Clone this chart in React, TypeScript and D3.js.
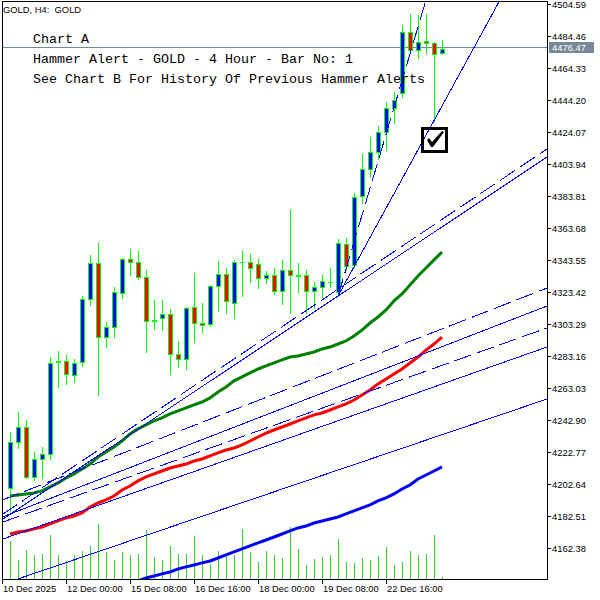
import React, { useEffect, useRef } from 'react';
import * as d3 from 'd3';

// ---- data (GOLD, H4) ----
const opens = [4200.2, 4229.1, 4238.5, 4207.1, 4218.4, 4221.5, 4279.4, 4280.0, 4271.2, 4279.4, 4319.0, 4341.7, 4295.1, 4301.4, 4322.8, 4344.2, 4342.3, 4332.9, 4305.2, 4307.1, 4309.6, 4284.4, 4281.3, 4314.0, 4303.9, 4303.3, 4327.2, 4334.8, 4316.5, 4342.3, 4342.3, 4341.0, 4332.2, 4334.1, 4324.1, 4337.3, 4334.1, 4334.1, 4324.1, 4326.6, 4329.7, 4323.4, 4353.6, 4340.4, 4383.8, 4400.8, 4411.5, 4424.1, 4439.2, 4448.6, 4487.0, 4475.6, 4481.3, 4480.1, 4473.8];
const highs = [4235.4, 4248.0, 4242.9, 4222.8, 4225.9, 4282.5, 4286.3, 4283.8, 4281.3, 4320.9, 4346.7, 4354.3, 4304.6, 4326.6, 4344.8, 4350.5, 4349.2, 4337.3, 4318.4, 4318.4, 4312.7, 4292.6, 4314.0, 4335.4, 4316.5, 4327.8, 4342.9, 4338.5, 4343.6, 4349.2, 4347.3, 4344.2, 4336.6, 4338.5, 4343.6, 4375.0, 4341.7, 4337.3, 4329.7, 4334.1, 4338.5, 4356.8, 4357.4, 4385.7, 4410.2, 4420.9, 4427.8, 4442.9, 4449.2, 4491.4, 4498.3, 4497.7, 4498.3, 4480.7, 4481.9];
const lows = [4184.4, 4225.3, 4206.4, 4205.2, 4206.4, 4218.4, 4263.7, 4265.6, 4266.8, 4276.9, 4315.3, 4258.6, 4288.8, 4295.1, 4319.7, 4334.1, 4331.6, 4285.7, 4300.2, 4299.5, 4271.9, 4276.3, 4275.0, 4292.0, 4298.3, 4302.0, 4311.5, 4310.2, 4307.1, 4320.9, 4329.7, 4325.9, 4329.1, 4322.2, 4315.9, 4310.2, 4323.4, 4310.2, 4313.4, 4320.3, 4326.6, 4320.9, 4337.3, 4339.2, 4379.4, 4395.8, 4407.1, 4412.7, 4429.7, 4446.1, 4475.6, 4470.6, 4473.8, 4431.0, 4473.1];
const closes = [4229.1, 4238.5, 4207.1, 4218.4, 4221.5, 4278.8, 4280.0, 4271.9, 4278.8, 4319.0, 4341.7, 4295.1, 4301.4, 4323.4, 4344.2, 4342.3, 4332.9, 4305.2, 4305.8, 4309.6, 4284.4, 4281.3, 4313.4, 4303.9, 4302.7, 4327.2, 4334.8, 4317.8, 4342.3, 4342.0, 4338.5, 4332.2, 4334.1, 4324.1, 4337.3, 4334.1, 4333.5, 4324.1, 4326.6, 4330.4, 4330.0, 4354.3, 4339.8, 4383.2, 4400.8, 4411.5, 4424.1, 4439.2, 4444.2, 4487.0, 4475.6, 4480.7, 4480.1, 4473.1, 4476.47];
const volumes = [38000, 19000, 29000, 24000, 25000, 44000, 24000, 18000, 24000, 28000, 33000, 55000, 27000, 19000, 27000, 24000, 25000, 49000, 22000, 19000, 33000, 25000, 25000, 43000, 24000, 15000, 28000, 25000, 24000, 50000, 27000, 17000, 28000, 24000, 21000, 52000, 30000, 14000, 20000, 22000, 24000, 40000, 17000, 16000, 21000, 19000, 23000, 32000, 14000, 17000, 28000, 24000, 25000, 44000, 2000];

const maGreen = [4195.1, 4195.7, 4196.4, 4197.0, 4198.3, 4200.8, 4203.3, 4206.4, 4209.0, 4212.1, 4215.2, 4219.6, 4222.8, 4225.9, 4229.7, 4234.1, 4237.3, 4239.8, 4242.3, 4244.2, 4246.7, 4248.6, 4250.5, 4252.4, 4254.2, 4256.8, 4260.5, 4263.7, 4267.5, 4270.0, 4272.5, 4275.0, 4276.9, 4278.8, 4280.7, 4282.5, 4283.2, 4284.4, 4285.7, 4287.6, 4288.8, 4290.7, 4292.6, 4295.8, 4299.5, 4303.9, 4307.7, 4312.1, 4317.8, 4322.2, 4327.8, 4333.5, 4338.5, 4343.6, 4348.6];
const maRed = [4171.2, 4172.5, 4173.1, 4174.4, 4175.6, 4177.5, 4179.4, 4181.3, 4182.5, 4184.4, 4188.2, 4190.7, 4192.6, 4195.1, 4198.9, 4201.4, 4204.6, 4207.1, 4209.0, 4210.8, 4212.7, 4214.0, 4215.2, 4217.1, 4218.4, 4220.3, 4222.2, 4224.0, 4225.3, 4227.2, 4229.7, 4232.2, 4234.7, 4236.6, 4238.5, 4240.4, 4242.3, 4244.2, 4246.1, 4247.3, 4249.2, 4251.1, 4253.0, 4255.5, 4258.6, 4261.8, 4265.6, 4268.7, 4271.9, 4275.0, 4278.8, 4282.5, 4286.9, 4290.7, 4295.1];
const maBlue = [null, null, null, null, null, null, null, null, null, null, null, null, null, null, 4137.9, 4139.8, 4141.7, 4143.5, 4144.8, 4146.1, 4147.3, 4149.2, 4150.5, 4151.7, 4153.0, 4154.2, 4156.1, 4158.0, 4159.9, 4161.8, 4163.7, 4165.6, 4167.4, 4169.3, 4171.2, 4173.1, 4175.0, 4176.2, 4178.1, 4179.4, 4180.6, 4181.9, 4183.8, 4185.7, 4187.6, 4189.5, 4192.0, 4193.9, 4196.4, 4199.5, 4202.0, 4205.8, 4208.3, 4210.8, 4213.4];

const priceTicks = [4504.59, 4484.46, 4464.33, 4444.20, 4424.07, 4403.94, 4383.81, 4363.68, 4343.55, 4323.42, 4303.29, 4283.16, 4263.03, 4242.90, 4222.77, 4202.64, 4182.51, 4162.38];
const timeTickBars = [-1, 7, 15, 23, 31, 39, 47];
const timeTickLabels = ['10 Dec 2025', '12 Dec 00:00', '15 Dec 08:00', '16 Dec 16:00', '18 Dec 00:00', '19 Dec 08:00', '22 Dec 16:00'];
const bidPrice = 4476.47;

// trend lines as [bar, price] anchor pairs
const solidTrends: [number, number][][] = [
  [[-1.25, 4179.4], [67.125, 4408.3]],
  [[-1.25, 4181.3], [67.125, 4314.6]],
  [[-1.25, 4167.4], [67.125, 4288.8]],
  [[-1.25, 4139.1], [67.125, 4256.1]],
];
const dashedTrends: [number, number][][] = [
  [[-1.25, 4182.5], [67.125, 4413.4]],
  [[-1.25, 4192.0], [67.125, 4325.9]],
  [[-1.25, 4178.1], [67.125, 4300.8]],
];
const fanSolid: [number, number][][] = [[[41, 4320.9], [61.25, 4507.1]]];
const fanDashed: [number, number][][] = [[[41, 4320.9], [52, 4507.1]]];

const signalBar = 53;
const signalPrice = 4427.2;

const title = 'GOLD, H4:  GOLD';
const messages = ['Chart A', 'Hammer Alert - GOLD - 4 Hour - Bar No: 1', 'See Chart B For History Of Previous Hammer Alerts'];

const App: React.FC = () => {
  const svgRef = useRef<SVGSVGElement>(null);

  useEffect(() => {
    if (!svgRef.current) return;
    const svg = d3.select(svgRef.current);
    svg.selectAll('*').remove();

    const left = 2, right = 547, top = 1, bottom = 579;
    const x = d3.scaleLinear().domain([-1, 54]).range([2, 442]);
    const y = d3.scaleLinear().domain([4162.38, 4504.59]).range([548, 4]);
    const v = d3.scaleLinear().domain([0, 100000]).range([bottom, bottom - 100]);

    svg.append('rect').attr('width', 600).attr('height', 600).attr('fill', '#fff');
    svg.append('defs').append('clipPath').attr('id', 'plot')
      .append('rect').attr('x', left + 1).attr('y', top + 1)
      .attr('width', right - left - 1).attr('height', bottom - top - 1);

    const g = svg.append('g').attr('clip-path', 'url(#plot)');

    // volumes
    g.selectAll('.vol').data(volumes).enter().append('rect')
      .attr('x', (d, i) => Math.round(x(i)))
      .attr('y', d => Math.round(v(d)))
      .attr('width', 1)
      .attr('height', d => bottom - Math.round(v(d)))
      .attr('fill', '#32cd32');

    // bid line
    const by = Math.round(y(bidPrice)) - 2 + 0.5;
    g.append('line').attr('x1', left).attr('x2', right).attr('y1', by).attr('y2', by)
      .attr('stroke', '#778899').attr('stroke-width', 1);

    // candles
    const candles = g.selectAll('.candle').data(opens).enter().append('g').attr('class', 'candle');
    candles.each(function (o, i) {
      const c = closes[i];
      const cx = Math.round(x(i));
      const yH = Math.round(y(highs[i]));
      const yL = Math.round(y(lows[i]));
      const yT = Math.round(y(Math.max(o, c)));
      const yB = Math.round(y(Math.min(o, c)));
      const el = d3.select(this);
      el.append('rect').attr('x', cx).attr('y', yH).attr('width', 1).attr('height', yL - yH + 1).attr('fill', '#00ff00');
      el.append('rect').attr('x', cx - 2).attr('y', yT).attr('width', 5).attr('height', yB - yT + 1).attr('fill', '#00ff00');
      if (yB - yT >= 2) {
        el.append('rect').attr('x', cx - 1).attr('y', yT + 1).attr('width', 3).attr('height', yB - yT - 1)
          .attr('fill', c >= o ? '#0000ff' : '#ff0000');
      }
    });

    // moving averages
    const ma = d3.line<number | null>()
      .defined(d => d !== null)
      .x((d, i) => x(i))
      .y(d => y(d as number));
    g.append('path').attr('d', ma(maGreen)).attr('fill', 'none').attr('stroke', '#008000').attr('stroke-width', 3);
    g.append('path').attr('d', ma(maRed)).attr('fill', 'none').attr('stroke', '#ff0000').attr('stroke-width', 3);
    g.append('path').attr('d', ma(maBlue)).attr('fill', 'none').attr('stroke', '#0000ff').attr('stroke-width', 3);

    // trend lines, extended to the plot edges
    const extend = (pts: [number, number][], ray: boolean) => {
      const x1 = x(pts[0][0]), y1 = y(pts[0][1]);
      const x2 = x(pts[1][0]), y2 = y(pts[1][1]);
      const k = (y2 - y1) / (x2 - x1);
      const xa = ray ? x1 : left;
      return { x1: xa, y1: y1 + (xa - x1) * k, x2: right + 5, y2: y1 + (right + 5 - x1) * k };
    };
    const drawTrend = (set: [number, number][][], ray: boolean, dashed: boolean) => {
      set.forEach(pts => {
        const s = extend(pts, ray);
        g.append('line')
          .attr('x1', s.x1).attr('y1', s.y1).attr('x2', s.x2).attr('y2', s.y2)
          .attr('stroke', '#0000ff').attr('stroke-width', 1)
          .attr('stroke-dasharray', dashed ? '18,6' : null)
          .attr('shape-rendering', 'crispEdges');
      });
    };
    drawTrend(solidTrends, false, false);
    drawTrend(dashedTrends, false, true);
    drawTrend(fanSolid, true, false);
    drawTrend(fanDashed, true, true);

    // hammer signal (check box)
    const sx = Math.round(x(signalBar)) - 13;
    const sy = Math.round(y(signalPrice));
    const sig = svg.append('g').attr('transform', `translate(${sx}, ${sy})`);
    sig.append('rect').attr('x', 1.5).attr('y', 1.5).attr('width', 24).attr('height', 23)
      .attr('fill', 'none').attr('stroke', '#000').attr('stroke-width', 3);
    sig.append('path').attr('d', 'M6,13 L8,11 L11,15 L21,4 L23,5 L12,20 L10,20 Z').attr('fill', '#000');

    // frame
    svg.append('rect').attr('x', left + 0.5).attr('y', top + 0.5)
      .attr('width', right - left).attr('height', bottom - top)
      .attr('fill', 'none').attr('stroke', '#000').attr('stroke-width', 1);

    // price axis
    const ax = svg.append('g').attr('font-family', 'Liberation Sans, Arial, sans-serif').attr('font-size', 9.4);
    priceTicks.forEach(p => {
      const py = Math.round(y(p));
      ax.append('line').attr('x1', right).attr('x2', right + 4).attr('y1', py + 0.5).attr('y2', py + 0.5).attr('stroke', '#000');
      ax.append('text').attr('x', 552).attr('y', py + 3.5).attr('fill', '#000').text(d3.format('.2f')(p));
    });
    ax.append('rect').attr('x', 549).attr('y', by - 5.5).attr('width', 45).attr('height', 11).attr('fill', '#778899');
    ax.append('text').attr('x', 552).attr('y', by + 3.5).attr('fill', '#fff').text(d3.format('.2f')(bidPrice));

    // time axis
    timeTickBars.forEach((b, k) => {
      const tx = Math.round(x(b)) + 0.5;
      ax.append('line').attr('x1', tx).attr('x2', tx).attr('y1', bottom).attr('y2', bottom + 5).attr('stroke', '#000');
      ax.append('text').attr('x', tx + 0.5).attr('y', 592).attr('fill', '#000').text(timeTickLabels[k]);
    });

    // title and messages
    svg.append('text').attr('x', 3).attr('y', 12.5)
      .attr('font-family', 'Liberation Sans, Arial, sans-serif').attr('font-size', 9.4).attr('fill', '#000')
      .style('white-space', 'pre').text(title);
    messages.forEach((m, k) => {
      svg.append('text').attr('x', 33).attr('y', 43 + k * 20)
        .attr('font-family', 'Liberation Mono, Courier New, monospace').attr('font-size', 13.33)
        .attr('fill', '#000').style('white-space', 'pre').text(m);
    });
  }, []);

  return (
    <svg ref={svgRef} width={600} height={600} style={{ position: 'absolute', left: 0, top: 0 }} />
  );
};

export default App;
